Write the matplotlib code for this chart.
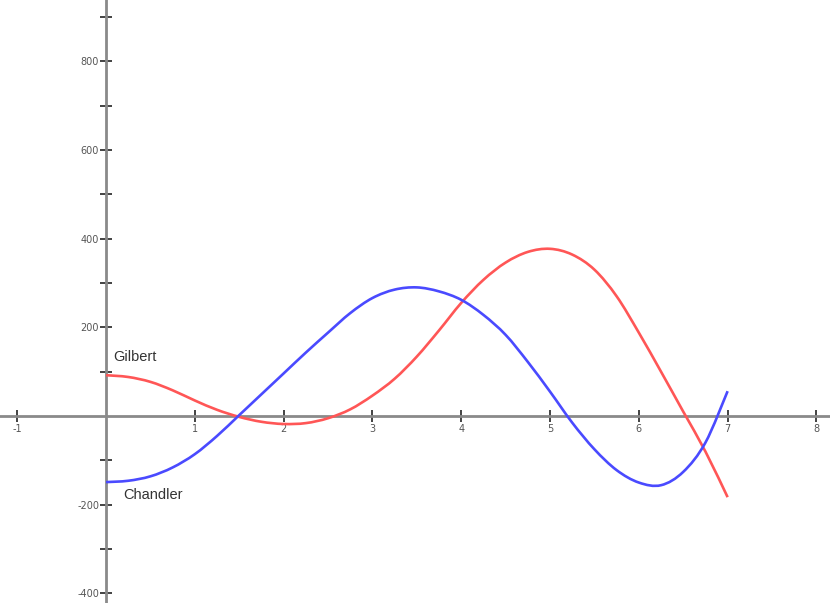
import matplotlib.pyplot as plt
from matplotlib.path import Path
from matplotlib.patches import PathPatch

# values, every 0.25 on x
x_vals = [0, 0.25, 0.5, 0.75, 1, 1.25, 1.5, 1.75, 2, 2.25, 2.5, 2.75, 3, 3.25, 3.5,
          3.75, 4, 4.25, 4.5, 4.75, 5, 5.25, 5.5, 5.75, 6, 6.25, 6.5, 6.75, 7]
gilbert = [92, 88, 77, 58, 35, 14, -2, -13, -18, -16, -5, 15, 46, 84, 134,
           193, 255, 307, 346, 370, 377, 364, 330, 270, 188, 100, 10, -80, -183]
chandler = [-149, -146, -136, -116, -86, -45, 2, 49, 96, 143, 188, 232, 266, 285, 290,
            281, 262, 228, 183, 122, 55, -15, -75, -122, -150, -156, -126, -60, 56]

x_ticks = [-1, 1, 2, 3, 4, 5, 6, 7, 8]
y_major = [-400, -200, 200, 400, 600, 800]
y_minor = [-300, -100, 100, 300, 500, 700, 900]


def smooth_path(xs, ys):
    # Catmull-Rom through the read points, drawn as cubic beziers
    pts = list(zip(xs, ys))
    verts = [pts[0]]
    codes = [Path.MOVETO]
    n = len(pts)
    for i in range(n - 1):
        p0 = pts[max(i - 1, 0)]
        p1 = pts[i]
        p2 = pts[i + 1]
        p3 = pts[min(i + 2, n - 1)]
        c1 = (p1[0] + (p2[0] - p0[0]) / 6, p1[1] + (p2[1] - p0[1]) / 6)
        c2 = (p2[0] - (p3[0] - p1[0]) / 6, p2[1] - (p3[1] - p1[1]) / 6)
        verts += [c1, c2, p2]
        codes += [Path.CURVE4] * 3
    return Path(verts, codes)


fig = plt.figure(figsize=(8.3, 6.03), dpi=100)
ax = fig.add_axes([0, 0, 1, 1])

ax.add_patch(PathPatch(smooth_path(x_vals, gilbert), facecolor='none',
                       edgecolor='#ff5656', linewidth=1.9, zorder=3))
ax.add_patch(PathPatch(smooth_path(x_vals, chandler), facecolor='none',
                       edgecolor='#4a4aff', linewidth=1.9, zorder=3))

ax.text(0.08, 133, 'Gilbert', fontsize=10.5, color='#333333',
        family='Liberation Sans', va='center', ha='left')
ax.text(0.19, -178, 'Chandler', fontsize=10.5, color='#333333',
        family='Liberation Sans', va='center', ha='left')

ax.set_xlim(-1.194, 8.153)
ax.set_ylim(-421.6, 938)

# axes crossing at the origin
for side in ['top', 'right']:
    ax.spines[side].set_visible(False)
for side in ['left', 'bottom']:
    ax.spines[side].set_position(('data', 0))
    ax.spines[side].set_color('#8a8a8a')
    ax.spines[side].set_linewidth(2)

ax.set_xticks(x_ticks)
ax.set_xticklabels([str(t) for t in x_ticks])
ax.set_yticks(y_major)
ax.set_yticklabels([str(t) for t in y_major])
ax.set_yticks(y_minor, minor=True)

ax.tick_params(axis='both', which='both', direction='inout', length=8,
               width=1.2, color='#222222', labelsize=7, labelcolor='#555555')
ax.tick_params(axis='x', pad=2)
ax.tick_params(axis='y', pad=1)

ax.patch.set_visible(False)
fig.savefig('out.png', dpi=100)
plt.close()
